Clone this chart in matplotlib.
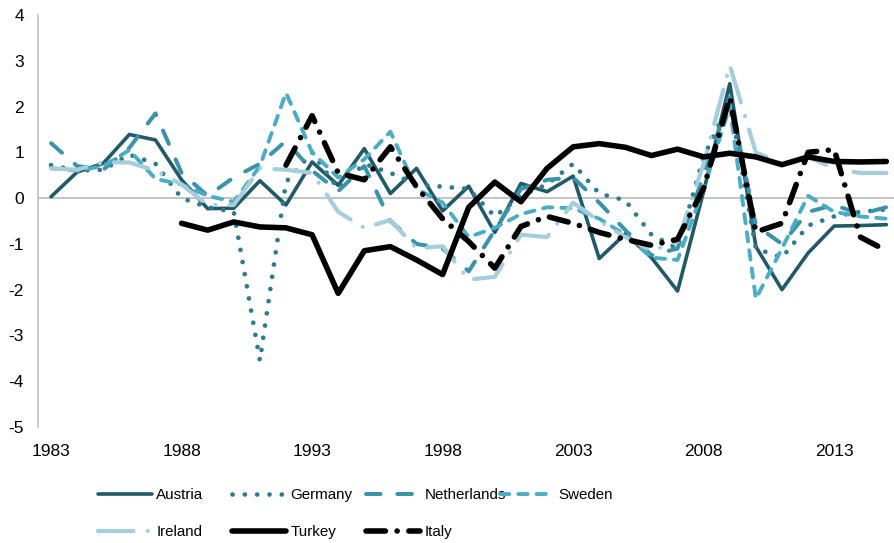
import numpy as np
import matplotlib
matplotlib.use("Agg")
import matplotlib.pyplot as plt

years = list(range(1983, 2016))
nan = np.nan

austria = [0.03, 0.57, 0.76, 1.39, 1.27, 0.40, -0.23, -0.22, 0.38, -0.15, 0.79,
           0.28, 1.08, 0.10, 0.65, -0.28, 0.26, -0.75, 0.32, 0.14, 0.48, -1.32,
           -0.78, -1.3, -2.03, 0.15, 2.5, -1.06, -2.0, -1.2, -0.61, -0.60, -0.58]
germany = [0.72, 0.60, 0.62, 0.95, 0.75, 0.00, -0.20, -0.30, -3.55, 0.35, 1.0,
           0.20, 0.75, 0.55, 0.30, 0.25, 0.20, -0.40, 0.05, 0.30, 0.75, 0.10,
           -0.05, -0.80, -1.10, 0.90, 2.1, -1.10, -1.30, -0.60, -0.40, -0.30, -0.25]
netherlands = [1.20, 0.70, 0.62, 1.10, 1.85, 0.55, 0.05, 0.45, 0.75, 1.25, 0.60,
               0.15, 0.70, -0.50, -1.00, -1.10, -1.60, -0.70, 0.20, 0.40, 0.45, -0.10,
               -0.70, -1.25, -1.10, 0.50, 2.2, -0.60, -1.00, -0.30, -0.15, -0.35, -0.20]
sweden = [0.65, 0.60, 0.70, 1.05, 0.42, 0.30, 0.05, -0.08, 0.70, 2.30, 1.00,
          0.45, 0.85, 1.45, 0.20, -0.10, -0.85, -0.65, -0.35, -0.20, -0.22, -0.45,
          -0.80, -1.30, -1.35, 0.20, 2.0, -2.20, -1.10, 0.05, -0.30, -0.40, -0.45]
ireland = [0.65, 0.62, 0.78, 0.78, 0.60, 0.30, -0.15, -0.15, 0.65, 0.62, 0.55,
           -0.30, -0.65, -0.48, -1.10, -1.05, -1.78, -1.72, -0.80, -0.85, -0.10, -0.50,
           -0.85, -1.15, -0.95, 0.75, 2.9, 1.00, 0.75, 0.90, 0.65, 0.55, 0.55]
turkey = [nan, nan, nan, nan, nan, -0.55, -0.70, -0.52, -0.63, -0.65, -0.80,
          -2.08, -1.15, -1.06, -1.35, -1.67, -0.20, 0.35, -0.08, 0.65, 1.12, 1.19,
          1.11, 0.93, 1.07, 0.90, 0.98, 0.90, 0.73, 0.90, 0.80, 0.79, 0.80]
italy = [nan, nan, nan, nan, nan, nan, nan, nan, nan, 0.72, 1.80,
         0.55, 0.40, 1.12, 0.25, -0.45, -0.95, -1.53, -0.62, -0.40, -0.55, -0.75,
         -0.90, -1.03, -0.90, 0.22, 2.2, -0.74, -0.55, 1.00, 1.06, -0.85, -1.15]

names = ["Austria", "Germany", "Netherlands", "Sweden", "Ireland", "Turkey", "Italy"]
series = [austria, germany, netherlands, sweden, ireland, turkey, italy]
colors = ["#215968", "#2e7a8e", "#3a93aa", "#4bacc6", "#a5cddb", "#000000", "#000000"]
widths = [2.6, 3.4, 2.9, 2.8, 3.0, 4.0, 4.0]
styles = ["-", (0, (0.01, 2.6)), (0, (3.6, 4.2)), (0, (2.4, 2.3)),
          (0, (8.5, 3.4, 0.01, 3.4)), "-", (0, (3.5, 2.1, 0.01, 2.1))]

plt.rcParams["font.family"] = ["Liberation Sans", "DejaVu Sans"]
plt.rcParams["axes.unicode_minus"] = False

fig = plt.figure(figsize=(8.95, 5.43), dpi=100)
ax = fig.add_axes([38 / 895, 116 / 543, 857 / 895, 412 / 543])

ax.axhline(0, color="#bfbfbf", lw=1.3, zorder=0)

handles = []
for name, vals, c, w, ls in zip(names, series, colors, widths, styles):
    line, = ax.plot(years, vals, color=c, lw=w, linestyle=ls,
                    solid_capstyle="round", solid_joinstyle="round",
                    dash_capstyle="round", dash_joinstyle="round", label=name)
    handles.append(line)

ax.set_xlim(1982.5, 2015.33)
ax.set_ylim(-5, 4)
ax.set_yticks(range(-5, 5))
ax.set_xticks(range(1983, 2016, 5))
ax.tick_params(axis="y", length=0, pad=10, labelsize=12.5)
ax.tick_params(axis="x", length=0, pad=12, labelsize=12.5)
for side in ["top", "right", "bottom"]:
    ax.spines[side].set_visible(False)
ax.spines["left"].set_color("#bfbfbf")
ax.spines["left"].set_linewidth(1.2)

# one legend per entry so the columns keep an even pitch
slots = [(98, 495), (232, 495), (366, 495), (500, 495),
         (98, 532), (232, 532), (366, 532)]
for h, name, (px, py) in zip(handles, names, slots):
    fig.legend(handles=[h], labels=[name], loc="center left",
               bbox_to_anchor=(px / 895, 1 - py / 543), frameon=False,
               borderpad=0, borderaxespad=0, handlelength=3.55,
               handletextpad=0.3, fontsize=10.9)

fig.savefig("out.png", dpi=100)
